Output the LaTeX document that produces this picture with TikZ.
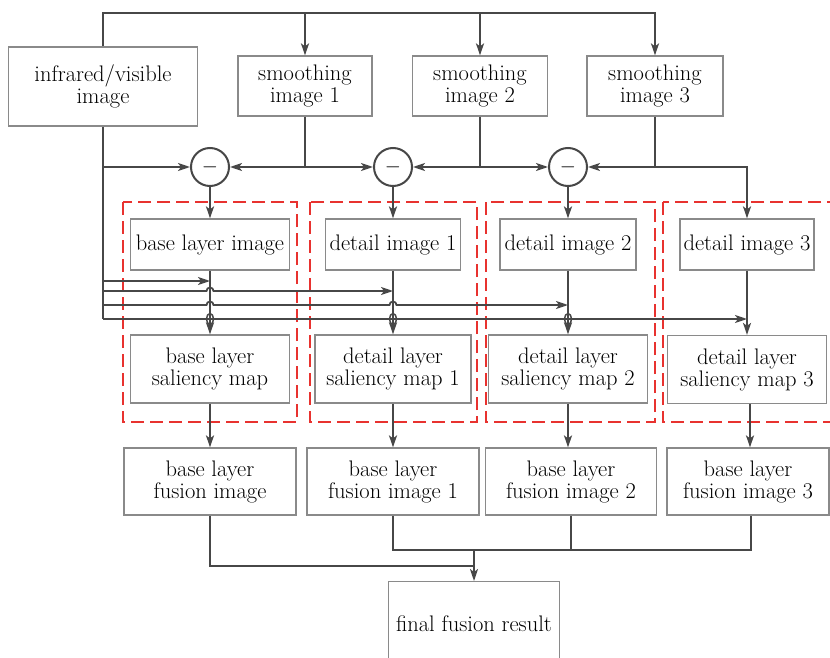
\documentclass[tikz,border=0pt]{standalone}
\usepackage{fontspec}
\usetikzlibrary{arrows.meta}
\definecolor{linegray}{HTML}{474747}
\definecolor{boxgray}{HTML}{8A8A8A}
\definecolor{dashred}{HTML}{E8322F}
\begin{document}
\begin{tikzpicture}[x=1pt,y=-1pt,
  box/.style={draw=boxgray, line width=1.2pt, fill=white, align=center, inner sep=0pt,
    font=\fontsize{22.5}{22}\selectfont},
  conn/.style={draw=linegray, line width=1.8pt},
  arr/.style={conn, -{Stealth[length=12pt,width=8pt,inset=3pt]}},
  redbox/.style={draw=dashred, line width=2.4pt, dash pattern=on 13pt off 6pt},
  minus/.style={circle, draw=linegray, line width=2pt, minimum size=38pt, inner sep=0pt, fill=white,
    font=\fontsize{22}{22}\selectfont},
  loopmark/.style={draw=linegray, line width=1.5pt}]
\fill[white] (0,0) rectangle (830,658);
\useasboundingbox (0,0) rectangle (830,658);

% dashed red groups
\draw[redbox] (123,202) rectangle (297,422);
\draw[redbox] (310,202) rectangle (477,422);
\draw[redbox] (486,202) rectangle (655,422);
\draw[redbox] (663,202) rectangle (845,422);

% nodes
\node[box, minimum width=189pt, minimum height=79pt] (inf) at (103,86.5) {infrared/visible\\image};
\node[box, minimum width=134pt, minimum height=60pt] (s1) at (305,86) {smoothing\\image 1};
\node[box, minimum width=135pt, minimum height=60pt] (s2) at (480,86) {smoothing\\image 2};
\node[box, minimum width=136pt, minimum height=60pt] (s3) at (655,86) {smoothing\\image 3};

\node[minus] (m1) at (210,167) {$-$};
\node[minus] (m2) at (393,167) {$-$};
\node[minus] (m3) at (568,167) {$-$};

\node[box, minimum width=159pt, minimum height=51pt] (b)  at (210,244.5) {base layer image};
\node[box, minimum width=135pt, minimum height=51pt] (d1) at (393,244.5) {detail image 1};
\node[box, minimum width=136pt, minimum height=51pt] (d2) at (568,244.5) {detail image 2};
\node[box, minimum width=134pt, minimum height=51pt] (d3) at (747,244.5) {detail image 3};

\node[box, minimum width=159pt, minimum height=68pt] (bs)  at (210,369) {base layer\\saliency map};
\node[box, minimum width=156pt, minimum height=68pt] (ds1) at (393,369) {detail layer\\saliency map 1};
\node[box, minimum width=159pt, minimum height=68pt] (ds2) at (568,369) {detail layer\\saliency map 2};
\node[box, minimum width=159pt, minimum height=68pt] (ds3) at (747,369.5) {detail layer\\saliency map 3};

\node[box, minimum width=172pt, minimum height=67pt] (bf) at (210,481.5) {base layer\\fusion image};
\node[box, minimum width=172pt, minimum height=67pt] (f1) at (393,481.5) {base layer\\fusion image 1};
\node[box, minimum width=171pt, minimum height=67pt] (f2) at (571,481.5) {base layer\\fusion image 2};
\node[box, minimum width=162pt, minimum height=67pt] (f3) at (748,481.5) {base layer\\fusion image 3};

\node[box, minimum width=171pt, minimum height=84pt, anchor=north] (fin) at (474,581) {final fusion result};

% top distribution line
\coordinate (t0) at (103,13);
\draw[arr] (inf.north) -- (t0) -- (t0 -| s3.north) -- (s3.north);
\draw[arr] (t0 -| s1.north) -- (s1.north);
\draw[arr] (t0 -| s2.north) -- (s2.north);

% subtraction row
\coordinate (L4) at (103,319);
\draw[conn] (inf.south) -- (L4);
\draw[arr] (inf.south |- m1) -- (m1.west);
\draw[conn] (s1.south) -- (s1.south |- m1);
\draw[arr] (s1.south |- m1) -- (m1.east);
\draw[arr] (s1.south |- m1) -- (m2.west);
\draw[conn] (s2.south) -- (s2.south |- m2);
\draw[arr] (s2.south |- m2) -- (m2.east);
\draw[arr] (s2.south |- m2) -- (m3.west);
\draw[conn] (s3.south) -- (s3.south |- m3);
\draw[arr] (s3.south |- m3) -- (m3.east);
\draw[arr] (s3.south |- m3) -| (d3.north);

\draw[arr] (m1.south) -- (m1.south |- b.north);
\draw[arr] (m2.south) -- (m2.south |- d1.north);
\draw[arr] (m3.south) -- (m3.south |- d2.north);

% vertical arrows detail -> saliency
\draw[arr] (b.south) -- (b.south |- bs.north);
\draw[arr] (d1.south) -- (d1.south |- ds1.north);
\draw[arr] (d2.south) -- (d2.south |- ds2.north);
\draw[arr] (d3.south) -- (d3.south |- ds3.north);

% horizontal feeds from the source image
\coordinate (L1) at (103,281);
\coordinate (L2) at (103,291);
\coordinate (L3) at (103,305);
\draw[arr] (L1) -- (L1 -| b.south);
\draw[arr] (L2) -- ([xshift=-3.5pt]L2 -| b.south) arc[start angle=180,end angle=360,radius=3.5] -- (L2 -| d1.south);
\draw[arr] (L3) -- ([xshift=-3.5pt]L3 -| b.south) arc[start angle=180,end angle=360,radius=3.5]
  -- ([xshift=-3.5pt]L3 -| d1.south) arc[start angle=180,end angle=360,radius=3.5] -- (L3 -| d2.south);
\draw[arr] (L4) -- (L4 -| d3.south);
\draw[loopmark] (L4 -| b.south) ellipse[x radius=3.5, y radius=5.5];
\draw[loopmark] (L4 -| d1.south) ellipse[x radius=3.5, y radius=5.5];
\draw[loopmark] (L4 -| d2.south) ellipse[x radius=3.5, y radius=5.5];

% saliency -> fusion
\draw[arr] (bs.south) -- (bs.south |- bf.north);
\draw[arr] (ds1.south) -- (ds1.south |- f1.north);
\draw[arr] (ds2.south) -- (ds2.south |- f2.north);
\draw[arr] ([xshift=3pt]ds3.south) -- ([xshift=3pt]ds3.south |- f3.north);

% merge to final result
\coordinate (J1) at (474,550);
\coordinate (J2) at (474,566);
\draw[conn] (bf.south) |- (J2);
\draw[conn] (f1.south) |- ([xshift=3pt]f3.south |- J1) -- ([xshift=3pt]f3.south);
\draw[conn] (f2.south) -- (f2.south |- J1);
\draw[arr] (J1) -- (fin.north);
\end{tikzpicture}
\end{document}
